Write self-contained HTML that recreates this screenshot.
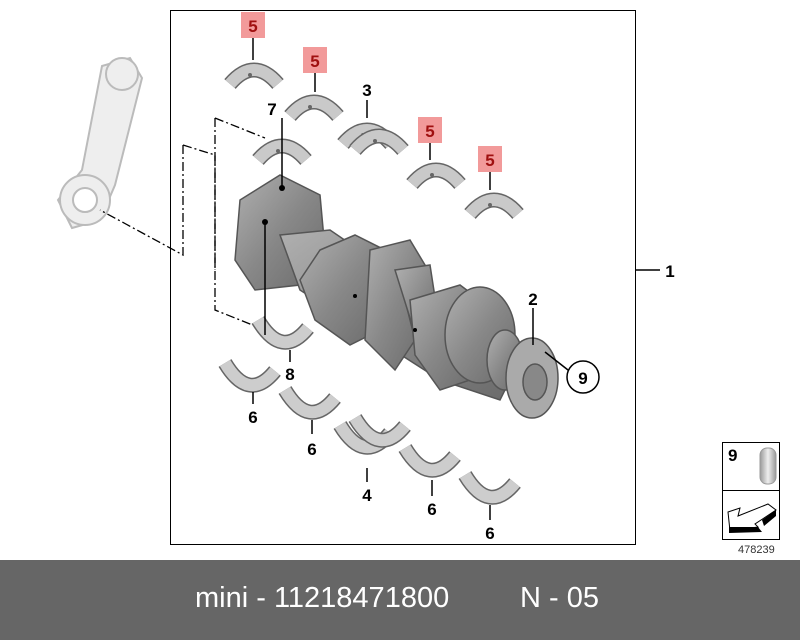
<!DOCTYPE html>
<html><head><style>
html,body{margin:0;padding:0;background:#fff}
body{width:800px;height:640px;position:relative;overflow:hidden;font-family:"Liberation Sans",Arial,sans-serif}
svg{position:absolute;left:0;top:0}
.bar{position:absolute;left:0;top:560px;width:800px;height:80px;background:#666}
.bar span{position:absolute;top:22px;color:#fff;font-size:29px}
</style></head><body>
<svg width="800" height="560" viewBox="0 0 800 560">
<defs>
<linearGradient id="g" x1="0" y1="0" x2="1" y2="1"><stop offset="0" stop-color="#b0b0b0"/><stop offset="0.5" stop-color="#888"/><stop offset="1" stop-color="#6a6a6a"/></linearGradient>
<linearGradient id="pin" x1="0" x2="1"><stop offset="0" stop-color="#999"/><stop offset="0.5" stop-color="#eee"/><stop offset="1" stop-color="#999"/></linearGradient>
<g id="up"><path d="M0 22 Q24 -6 48 22" fill="none" stroke="#666" stroke-width="15"/><path d="M0 22 Q24 -6 48 22" fill="none" stroke="#c9c9c9" stroke-width="12"/><circle cx="20" cy="13" r="2" fill="#666"/></g>
<g id="dn"><path d="M0 0 Q24 40 50 8" fill="none" stroke="#666" stroke-width="15"/><path d="M0 0 Q24 40 50 8" fill="none" stroke="#cdcdcd" stroke-width="12"/></g>
</defs>
<rect x="170.5" y="10.5" width="465" height="534" fill="none" stroke="#000"/>
<!-- connecting rod -->
<g fill="#eee" stroke="#bbb" stroke-width="2">
<path d="M102 66 L130 58 L142 78 L115 185 L100 220 L72 228 L58 200 L82 170 Z"/>
<circle cx="122" cy="74" r="16"/>
<circle cx="85" cy="200" r="25"/>
<circle cx="85" cy="200" r="12" fill="#fff"/>
</g>
<!-- dash lines -->
<g fill="none" stroke="#000" stroke-width="1.3" stroke-dasharray="9,3,2,3">
<path d="M215 118 L215 310 L265 330"/>
<path d="M215 118 L265 138"/>
<path d="M183 145 L183 255 L100 210"/>
<path d="M183 145 L215 155 L215 270"/>
</g>
<!-- crankshaft -->
<g stroke="#555" stroke-width="1.5" fill="url(#g)">
<path d="M240 200 L280 175 L320 195 L325 250 L300 285 L255 290 L235 260 Z"/>
<path d="M280 235 L330 230 L520 360 L500 400 L440 380 L300 290 Z"/>
<path d="M320 250 L355 235 L385 250 L380 330 L350 345 L315 320 L300 280 Z"/>
<path d="M370 250 L410 240 L425 265 L405 300 L415 340 L395 370 L365 340 Z"/>
<path d="M395 270 L430 265 L440 330 L420 350 Z"/>
<path d="M410 300 L460 285 L480 300 L470 380 L440 390 L415 355 Z"/>
<ellipse cx="480" cy="335" rx="35" ry="48"/>
<ellipse cx="505" cy="360" rx="18" ry="30"/>
<ellipse cx="532" cy="378" rx="26" ry="40" fill="#aaa"/>
<ellipse cx="535" cy="382" rx="12" ry="18" fill="#888"/>
</g>
<!-- shells -->
<use href="#up" x="230" y="62"/>
<use href="#up" x="290" y="94"/>
<use href="#up" x="343" y="122"/><use href="#up" x="355" y="128"/>
<use href="#up" x="258" y="138"/>
<use href="#up" x="412" y="162"/>
<use href="#up" x="470" y="192"/>
<use href="#dn" x="258" y="320"/>
<use href="#dn" x="225" y="363"/>
<use href="#dn" x="285" y="390"/>
<use href="#dn" x="340" y="425"/><use href="#dn" x="355" y="418"/>
<use href="#dn" x="405" y="448"/>
<use href="#dn" x="465" y="475"/>
<!-- leaders -->
<g stroke="#000" stroke-width="1.5">
<line x1="253" y1="38" x2="253" y2="60"/>
<line x1="315" y1="73" x2="315" y2="92"/>
<line x1="367" y1="100" x2="367" y2="118"/>
<line x1="282" y1="118" x2="282" y2="188"/>
<line x1="430" y1="143" x2="430" y2="160"/>
<line x1="490" y1="172" x2="490" y2="190"/>
<line x1="265" y1="222" x2="265" y2="335"/>
<line x1="290" y1="350" x2="290" y2="362"/>
<line x1="253" y1="392" x2="253" y2="404"/>
<line x1="312" y1="420" x2="312" y2="434"/>
<line x1="367" y1="468" x2="367" y2="482"/>
<line x1="432" y1="480" x2="432" y2="496"/>
<line x1="490" y1="505" x2="490" y2="520"/>
<line x1="636" y1="270" x2="660" y2="270"/>
<line x1="533" y1="308" x2="533" y2="345"/>
<line x1="545" y1="352" x2="568" y2="370"/>
</g>
<circle cx="282" cy="188" r="3"/><circle cx="265" cy="222" r="3"/><circle cx="355" cy="296" r="2"/><circle cx="415" cy="330" r="2"/>
<circle cx="583" cy="377" r="16" fill="#fff" stroke="#000" stroke-width="1.5"/>
<g fill="#f29a9a"><rect x="241" y="12" width="24" height="26"/><rect x="303" y="47" width="24" height="26"/><rect x="418" y="117" width="24" height="26"/><rect x="478" y="146" width="24" height="26"/></g>
<g font-family="Liberation Sans,Arial,sans-serif" font-weight="bold" font-size="17" text-anchor="middle">
<text x="253" y="32" fill="#a01010">5</text><text x="315" y="67" fill="#a01010">5</text>
<text x="430" y="137" fill="#a01010">5</text><text x="490" y="166" fill="#a01010">5</text>
<text x="367" y="96">3</text><text x="272" y="115">7</text><text x="670" y="277">1</text>
<text x="533" y="305">2</text><text x="583" y="384">9</text><text x="290" y="380">8</text>
<text x="253" y="423">6</text><text x="312" y="455">6</text><text x="367" y="501">4</text>
<text x="432" y="515">6</text><text x="490" y="539">6</text>
</g>
<!-- small box -->
<rect x="722.5" y="442.5" width="57" height="97" fill="#fff" stroke="#000"/>
<line x1="722" y1="490.5" x2="780" y2="490.5" stroke="#000"/>
<text x="728" y="461" font-family="Liberation Sans,Arial,sans-serif" font-weight="bold" font-size="17">9</text>
<rect x="760" y="448" width="16" height="36" rx="7" fill="url(#pin)" stroke="#999"/>
<path d="M728 512 L740 508 L738 516 L768 504 L776 510 L764 518 L755 524 L758 527 L730 531 Z" fill="#fff" stroke="#000"/>
<path d="M729 527 L758 527 L762 532 L729 533 Z M762 520 L776 510 L776 516 L764 526 Z" fill="#000"/>
<text x="738" y="553" font-family="Liberation Sans,Arial,sans-serif" font-size="11" fill="#333">478239</text>
</svg>
<div class="bar"><span style="left:195px">mini - 11218471800</span><span style="left:520px">N - 05</span></div>
</body></html>
